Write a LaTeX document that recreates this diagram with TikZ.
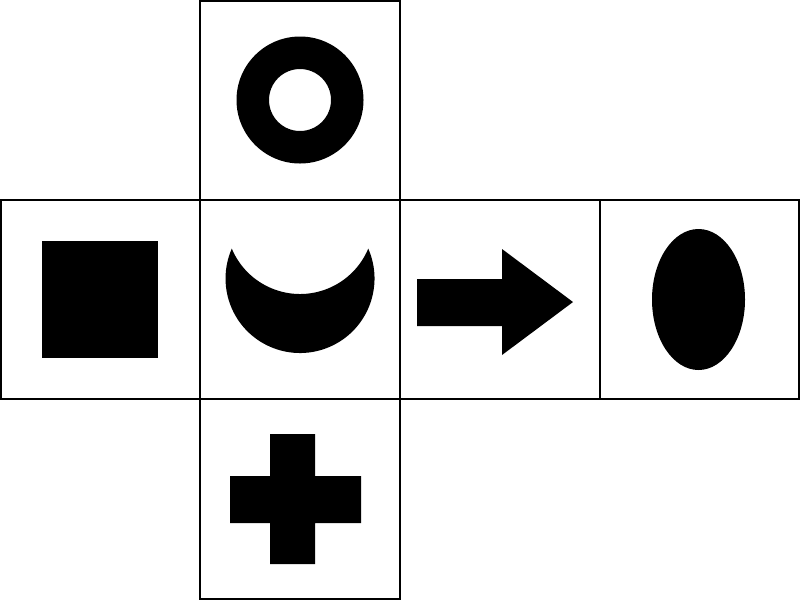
\documentclass[tikz,border=0pt]{standalone}
\begin{document}
\begin{tikzpicture}[x=0.02cm,y=-0.02cm,
  face/.style={draw=black,line width=1.1pt,fill=white},
  glyph/.style={fill=black}]
\useasboundingbox (0,0) rectangle (800,600);
% faces
\draw[face] (200,1) rectangle (400,200);
\draw[face] (1,200) rectangle (200,399);
\draw[face] (200,200) rectangle (400,399);
\draw[face] (400,200) rectangle (600,399);
\draw[face] (600,200) rectangle (799,399);
\draw[face] (200,399) rectangle (400,599);
% ring
\fill[glyph,even odd rule] (300,100) circle (63.5) (300,100) circle (31);
% square
\fill[glyph] (42,241) rectangle (158,358);
% crescent
\fill[glyph] (368.25,248.6) arc[start angle=-23.66, end angle=203.66, radius=74.5]
  arc[start angle=157.26, end angle=22.74, radius=74] -- cycle;
% arrow
\fill[glyph] (417,279) -- (502,279) -- (502,249) -- (573,302) -- (502,355) -- (502,326) -- (417,326) -- cycle;
% ellipse
\fill[glyph] (698.5,299.5) ellipse [x radius=46.5, y radius=70.5];
% cross
\fill[glyph] (270,434) -- (315,434) -- (315,476) -- (361,476) -- (361,523) -- (315,523) -- (315,564) -- (270,564) -- (270,523) -- (230,523) -- (230,476) -- (270,476) -- cycle;
\end{tikzpicture}
\end{document}
